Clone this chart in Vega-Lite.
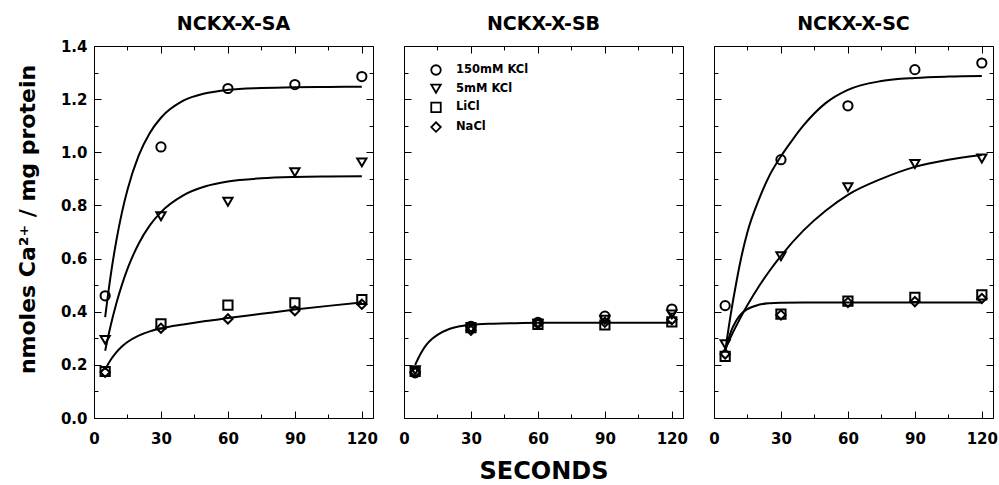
{
  "$schema": "https://vega.github.io/schema/vega-lite/v6.json",
  "padding": {"left": 16, "top": 14, "right": 0, "bottom": 0},
  "bounds": "flush",
  "spacing": 31,
  "config": {
    "view": {"stroke": null},
    "font": "DejaVu Sans",
    "axis": {"domainColor": "black", "tickColor": "black", "grid": false, "labelColor": "black", "titleColor": "black", "labelFont": "DejaVu Sans", "labelFontWeight": "bold", "labelFontSize": 15, "titleFont": "DejaVu Sans", "titleFontWeight": "bold", "titleFontSize": 24, "tickWidth": 1, "domainWidth": 1, "labelOverlap": false, "labelFlush": false},
    "title": {"font": "DejaVu Sans", "fontWeight": "bold", "fontSize": 19, "color": "black", "offset": 5}
  },
  "datasets": {
    "pts": [
      {"panel": "NCKX-X-SA", "cond": "150mM KCl", "t": 5, "v": 0.46},
      {"panel": "NCKX-X-SA", "cond": "150mM KCl", "t": 30, "v": 1.02},
      {"panel": "NCKX-X-SA", "cond": "150mM KCl", "t": 60, "v": 1.24},
      {"panel": "NCKX-X-SA", "cond": "150mM KCl", "t": 90, "v": 1.255},
      {"panel": "NCKX-X-SA", "cond": "150mM KCl", "t": 120, "v": 1.285},
      {"panel": "NCKX-X-SA", "cond": "5mM KCl", "t": 5, "v": 0.294},
      {"panel": "NCKX-X-SA", "cond": "5mM KCl", "t": 30, "v": 0.759},
      {"panel": "NCKX-X-SA", "cond": "5mM KCl", "t": 60, "v": 0.814},
      {"panel": "NCKX-X-SA", "cond": "5mM KCl", "t": 90, "v": 0.925},
      {"panel": "NCKX-X-SA", "cond": "5mM KCl", "t": 120, "v": 0.962},
      {"panel": "NCKX-X-SA", "cond": "LiCl", "t": 5, "v": 0.175},
      {"panel": "NCKX-X-SA", "cond": "LiCl", "t": 30, "v": 0.354},
      {"panel": "NCKX-X-SA", "cond": "LiCl", "t": 60, "v": 0.425},
      {"panel": "NCKX-X-SA", "cond": "LiCl", "t": 90, "v": 0.433},
      {"panel": "NCKX-X-SA", "cond": "LiCl", "t": 120, "v": 0.446},
      {"panel": "NCKX-X-SA", "cond": "NaCl", "t": 5, "v": 0.172},
      {"panel": "NCKX-X-SA", "cond": "NaCl", "t": 30, "v": 0.338},
      {"panel": "NCKX-X-SA", "cond": "NaCl", "t": 60, "v": 0.373},
      {"panel": "NCKX-X-SA", "cond": "NaCl", "t": 90, "v": 0.404},
      {"panel": "NCKX-X-SA", "cond": "NaCl", "t": 120, "v": 0.428},
      {"panel": "NCKX-X-SB", "cond": "150mM KCl", "t": 5, "v": 0.17},
      {"panel": "NCKX-X-SB", "cond": "150mM KCl", "t": 30, "v": 0.345},
      {"panel": "NCKX-X-SB", "cond": "150mM KCl", "t": 60, "v": 0.36},
      {"panel": "NCKX-X-SB", "cond": "150mM KCl", "t": 90, "v": 0.383},
      {"panel": "NCKX-X-SB", "cond": "150mM KCl", "t": 120, "v": 0.41},
      {"panel": "NCKX-X-SB", "cond": "5mM KCl", "t": 5, "v": 0.18},
      {"panel": "NCKX-X-SB", "cond": "5mM KCl", "t": 30, "v": 0.333},
      {"panel": "NCKX-X-SB", "cond": "5mM KCl", "t": 60, "v": 0.355},
      {"panel": "NCKX-X-SB", "cond": "5mM KCl", "t": 90, "v": 0.37},
      {"panel": "NCKX-X-SB", "cond": "5mM KCl", "t": 120, "v": 0.39},
      {"panel": "NCKX-X-SB", "cond": "LiCl", "t": 5, "v": 0.175},
      {"panel": "NCKX-X-SB", "cond": "LiCl", "t": 30, "v": 0.34},
      {"panel": "NCKX-X-SB", "cond": "LiCl", "t": 60, "v": 0.352},
      {"panel": "NCKX-X-SB", "cond": "LiCl", "t": 90, "v": 0.35},
      {"panel": "NCKX-X-SB", "cond": "LiCl", "t": 120, "v": 0.362},
      {"panel": "NCKX-X-SB", "cond": "NaCl", "t": 5, "v": 0.172},
      {"panel": "NCKX-X-SB", "cond": "NaCl", "t": 30, "v": 0.33},
      {"panel": "NCKX-X-SB", "cond": "NaCl", "t": 60, "v": 0.355},
      {"panel": "NCKX-X-SB", "cond": "NaCl", "t": 90, "v": 0.36},
      {"panel": "NCKX-X-SB", "cond": "NaCl", "t": 120, "v": 0.37},
      {"panel": "NCKX-X-SC", "cond": "150mM KCl", "t": 5, "v": 0.423},
      {"panel": "NCKX-X-SC", "cond": "150mM KCl", "t": 30, "v": 0.972},
      {"panel": "NCKX-X-SC", "cond": "150mM KCl", "t": 60, "v": 1.175},
      {"panel": "NCKX-X-SC", "cond": "150mM KCl", "t": 90, "v": 1.311},
      {"panel": "NCKX-X-SC", "cond": "150mM KCl", "t": 120, "v": 1.336},
      {"panel": "NCKX-X-SC", "cond": "5mM KCl", "t": 5, "v": 0.278},
      {"panel": "NCKX-X-SC", "cond": "5mM KCl", "t": 30, "v": 0.609},
      {"panel": "NCKX-X-SC", "cond": "5mM KCl", "t": 60, "v": 0.868},
      {"panel": "NCKX-X-SC", "cond": "5mM KCl", "t": 90, "v": 0.956},
      {"panel": "NCKX-X-SC", "cond": "5mM KCl", "t": 120, "v": 0.977},
      {"panel": "NCKX-X-SC", "cond": "LiCl", "t": 5, "v": 0.232},
      {"panel": "NCKX-X-SC", "cond": "LiCl", "t": 30, "v": 0.391},
      {"panel": "NCKX-X-SC", "cond": "LiCl", "t": 60, "v": 0.44},
      {"panel": "NCKX-X-SC", "cond": "LiCl", "t": 90, "v": 0.454},
      {"panel": "NCKX-X-SC", "cond": "LiCl", "t": 120, "v": 0.463},
      {"panel": "NCKX-X-SC", "cond": "NaCl", "t": 5, "v": 0.241},
      {"panel": "NCKX-X-SC", "cond": "NaCl", "t": 30, "v": 0.388},
      {"panel": "NCKX-X-SC", "cond": "NaCl", "t": 60, "v": 0.435},
      {"panel": "NCKX-X-SC", "cond": "NaCl", "t": 90, "v": 0.438},
      {"panel": "NCKX-X-SC", "cond": "NaCl", "t": 120, "v": 0.45}
    ],
    "fit": [
      {"panel": "NCKX-X-SA", "curve": "a", "t": 5, "v": 0.38},
      {"panel": "NCKX-X-SA", "curve": "a", "t": 7.5, "v": 0.538},
      {"panel": "NCKX-X-SA", "curve": "a", "t": 10, "v": 0.667},
      {"panel": "NCKX-X-SA", "curve": "a", "t": 12.5, "v": 0.773},
      {"panel": "NCKX-X-SA", "curve": "a", "t": 15, "v": 0.859},
      {"panel": "NCKX-X-SA", "curve": "a", "t": 20, "v": 0.987},
      {"panel": "NCKX-X-SA", "curve": "a", "t": 25, "v": 1.073},
      {"panel": "NCKX-X-SA", "curve": "a", "t": 30, "v": 1.13},
      {"panel": "NCKX-X-SA", "curve": "a", "t": 40, "v": 1.194},
      {"panel": "NCKX-X-SA", "curve": "a", "t": 50, "v": 1.222},
      {"panel": "NCKX-X-SA", "curve": "a", "t": 60, "v": 1.235},
      {"panel": "NCKX-X-SA", "curve": "a", "t": 75, "v": 1.242},
      {"panel": "NCKX-X-SA", "curve": "a", "t": 90, "v": 1.245},
      {"panel": "NCKX-X-SA", "curve": "a", "t": 105, "v": 1.246},
      {"panel": "NCKX-X-SA", "curve": "a", "t": 120, "v": 1.247},
      {"panel": "NCKX-X-SA", "curve": "b", "t": 5, "v": 0.253},
      {"panel": "NCKX-X-SA", "curve": "b", "t": 7.5, "v": 0.349},
      {"panel": "NCKX-X-SA", "curve": "b", "t": 10, "v": 0.431},
      {"panel": "NCKX-X-SA", "curve": "b", "t": 12.5, "v": 0.501},
      {"panel": "NCKX-X-SA", "curve": "b", "t": 15, "v": 0.561},
      {"panel": "NCKX-X-SA", "curve": "b", "t": 20, "v": 0.656},
      {"panel": "NCKX-X-SA", "curve": "b", "t": 25, "v": 0.725},
      {"panel": "NCKX-X-SA", "curve": "b", "t": 30, "v": 0.775},
      {"panel": "NCKX-X-SA", "curve": "b", "t": 40, "v": 0.838},
      {"panel": "NCKX-X-SA", "curve": "b", "t": 50, "v": 0.872},
      {"panel": "NCKX-X-SA", "curve": "b", "t": 60, "v": 0.89},
      {"panel": "NCKX-X-SA", "curve": "b", "t": 75, "v": 0.902},
      {"panel": "NCKX-X-SA", "curve": "b", "t": 90, "v": 0.907},
      {"panel": "NCKX-X-SA", "curve": "b", "t": 105, "v": 0.909},
      {"panel": "NCKX-X-SA", "curve": "b", "t": 120, "v": 0.91},
      {"panel": "NCKX-X-SA", "curve": "c", "t": 5, "v": 0.182},
      {"panel": "NCKX-X-SA", "curve": "c", "t": 7.5, "v": 0.219},
      {"panel": "NCKX-X-SA", "curve": "c", "t": 10, "v": 0.247},
      {"panel": "NCKX-X-SA", "curve": "c", "t": 12.5, "v": 0.269},
      {"panel": "NCKX-X-SA", "curve": "c", "t": 15, "v": 0.286},
      {"panel": "NCKX-X-SA", "curve": "c", "t": 20, "v": 0.31},
      {"panel": "NCKX-X-SA", "curve": "c", "t": 25, "v": 0.326},
      {"panel": "NCKX-X-SA", "curve": "c", "t": 30, "v": 0.337},
      {"panel": "NCKX-X-SA", "curve": "c", "t": 40, "v": 0.352},
      {"panel": "NCKX-X-SA", "curve": "c", "t": 50, "v": 0.365},
      {"panel": "NCKX-X-SA", "curve": "c", "t": 60, "v": 0.376},
      {"panel": "NCKX-X-SA", "curve": "c", "t": 75, "v": 0.392},
      {"panel": "NCKX-X-SA", "curve": "c", "t": 90, "v": 0.408},
      {"panel": "NCKX-X-SA", "curve": "c", "t": 105, "v": 0.422},
      {"panel": "NCKX-X-SA", "curve": "c", "t": 120, "v": 0.435},
      {"panel": "NCKX-X-SB", "curve": "a", "t": 5, "v": 0.2},
      {"panel": "NCKX-X-SB", "curve": "a", "t": 7.5, "v": 0.243},
      {"panel": "NCKX-X-SB", "curve": "a", "t": 10, "v": 0.275},
      {"panel": "NCKX-X-SB", "curve": "a", "t": 12.5, "v": 0.297},
      {"panel": "NCKX-X-SB", "curve": "a", "t": 15, "v": 0.313},
      {"panel": "NCKX-X-SB", "curve": "a", "t": 20, "v": 0.334},
      {"panel": "NCKX-X-SB", "curve": "a", "t": 25, "v": 0.345},
      {"panel": "NCKX-X-SB", "curve": "a", "t": 30, "v": 0.351},
      {"panel": "NCKX-X-SB", "curve": "a", "t": 40, "v": 0.355},
      {"panel": "NCKX-X-SB", "curve": "a", "t": 50, "v": 0.357},
      {"panel": "NCKX-X-SB", "curve": "a", "t": 60, "v": 0.358},
      {"panel": "NCKX-X-SB", "curve": "a", "t": 90, "v": 0.358},
      {"panel": "NCKX-X-SB", "curve": "a", "t": 120, "v": 0.358},
      {"panel": "NCKX-X-SC", "curve": "a", "t": 5, "v": 0.25},
      {"panel": "NCKX-X-SC", "curve": "a", "t": 7.5, "v": 0.39},
      {"panel": "NCKX-X-SC", "curve": "a", "t": 10, "v": 0.51},
      {"panel": "NCKX-X-SC", "curve": "a", "t": 12.5, "v": 0.615},
      {"panel": "NCKX-X-SC", "curve": "a", "t": 15, "v": 0.7},
      {"panel": "NCKX-X-SC", "curve": "a", "t": 20, "v": 0.82},
      {"panel": "NCKX-X-SC", "curve": "a", "t": 25, "v": 0.915},
      {"panel": "NCKX-X-SC", "curve": "a", "t": 30, "v": 0.985},
      {"panel": "NCKX-X-SC", "curve": "a", "t": 35, "v": 1.045},
      {"panel": "NCKX-X-SC", "curve": "a", "t": 40, "v": 1.1},
      {"panel": "NCKX-X-SC", "curve": "a", "t": 50, "v": 1.185},
      {"panel": "NCKX-X-SC", "curve": "a", "t": 60, "v": 1.235},
      {"panel": "NCKX-X-SC", "curve": "a", "t": 75, "v": 1.268},
      {"panel": "NCKX-X-SC", "curve": "a", "t": 90, "v": 1.28},
      {"panel": "NCKX-X-SC", "curve": "a", "t": 105, "v": 1.285},
      {"panel": "NCKX-X-SC", "curve": "a", "t": 120, "v": 1.287},
      {"panel": "NCKX-X-SC", "curve": "b", "t": 5, "v": 0.26},
      {"panel": "NCKX-X-SC", "curve": "b", "t": 7.5, "v": 0.305},
      {"panel": "NCKX-X-SC", "curve": "b", "t": 10, "v": 0.347},
      {"panel": "NCKX-X-SC", "curve": "b", "t": 12.5, "v": 0.388},
      {"panel": "NCKX-X-SC", "curve": "b", "t": 15, "v": 0.425},
      {"panel": "NCKX-X-SC", "curve": "b", "t": 20, "v": 0.494},
      {"panel": "NCKX-X-SC", "curve": "b", "t": 25, "v": 0.555},
      {"panel": "NCKX-X-SC", "curve": "b", "t": 30, "v": 0.61},
      {"panel": "NCKX-X-SC", "curve": "b", "t": 40, "v": 0.705},
      {"panel": "NCKX-X-SC", "curve": "b", "t": 50, "v": 0.78},
      {"panel": "NCKX-X-SC", "curve": "b", "t": 60, "v": 0.84},
      {"panel": "NCKX-X-SC", "curve": "b", "t": 75, "v": 0.9},
      {"panel": "NCKX-X-SC", "curve": "b", "t": 90, "v": 0.945},
      {"panel": "NCKX-X-SC", "curve": "b", "t": 105, "v": 0.972},
      {"panel": "NCKX-X-SC", "curve": "b", "t": 120, "v": 0.99},
      {"panel": "NCKX-X-SC", "curve": "c", "t": 5, "v": 0.25},
      {"panel": "NCKX-X-SC", "curve": "c", "t": 7.5, "v": 0.323},
      {"panel": "NCKX-X-SC", "curve": "c", "t": 10, "v": 0.367},
      {"panel": "NCKX-X-SC", "curve": "c", "t": 12.5, "v": 0.394},
      {"panel": "NCKX-X-SC", "curve": "c", "t": 15, "v": 0.41},
      {"panel": "NCKX-X-SC", "curve": "c", "t": 20, "v": 0.426},
      {"panel": "NCKX-X-SC", "curve": "c", "t": 25, "v": 0.432},
      {"panel": "NCKX-X-SC", "curve": "c", "t": 30, "v": 0.434},
      {"panel": "NCKX-X-SC", "curve": "c", "t": 40, "v": 0.435},
      {"panel": "NCKX-X-SC", "curve": "c", "t": 60, "v": 0.435},
      {"panel": "NCKX-X-SC", "curve": "c", "t": 90, "v": 0.435},
      {"panel": "NCKX-X-SC", "curve": "c", "t": 120, "v": 0.435}
    ]
  },
  "resolve": {"scale": {"shape": "independent"}, "legend": {"shape": "independent"}},
  "hconcat": [
    {
      "width": 279, "height": 372,
      "title": {"text": "NCKX-X-SA", "offset": 5},
      "resolve": {"axis": {"x": "independent", "y": "independent"}},
      "layer": [
        {
          "data": {"name": "fit"},
          "transform": [{"filter": "datum.panel === 'NCKX-X-SA'"}],
          "mark": {"type": "line", "color": "black", "strokeWidth": 2, "interpolate": "monotone"},
          "encoding": {
            "x": {"field": "t", "type": "quantitative", "scale": {"domain": [0, 125], "nice": false, "zero": false},
                  "axis": {"orient": "bottom", "title": null, "values": [0, 15, 30, 45, 60, 75, 90, 105, 120], "labelExpr": "datum.value % 30 === 0 ? datum.label : ''", "tickSize": {"condition": {"test": "datum.value % 30 === 0", "value": -7}, "value": -4}, "labelPadding": 20}},
            "y": {"field": "v", "type": "quantitative", "scale": {"domain": [0, 1.4], "nice": false},
                  "axis": {"orient": "left", "title": "nmoles Ca²⁺ / mg protein", "titleFontSize": 22, "titlePadding": 21, "titleY": 173, "format": ".1f", "values": [0, 0.1, 0.2, 0.3, 0.4, 0.5, 0.6, 0.7, 0.8, 0.9, 1.0, 1.1, 1.2, 1.3, 1.4], "labelExpr": "round(datum.value * 10) % 2 === 0 ? datum.label : ''", "tickSize": {"condition": {"test": "round(datum.value * 10) % 2 === 0", "value": -7}, "value": -4}, "labelPadding": 14}},
            "detail": {"field": "curve"}
          }
        },
        {
          "data": {"name": "pts"},
          "transform": [{"filter": "datum.panel === 'NCKX-X-SA'"}],
          "mark": {"type": "point", "filled": false, "color": "black", "strokeWidth": 2, "size": 85, "opacity": 1},
          "encoding": {
            "x": {"field": "t", "type": "quantitative", "axis": null},
            "y": {"field": "v", "type": "quantitative", "axis": null},
            "shape": {"field": "cond", "type": "nominal", "scale": {"domain": ["150mM KCl", "5mM KCl", "LiCl", "NaCl"], "range": ["circle", "triangle-down", "square", "diamond"]}, "legend": null}
          }
        },
        {
          "data": {"name": "pts"},
          "transform": [{"filter": "datum.panel === 'NCKX-X-SA'"}],
          "mark": {"type": "point", "opacity": 0},
          "encoding": {
            "x": {"field": "t", "type": "quantitative",
                  "axis": {"orient": "top", "title": null, "labels": false, "values": [0, 15, 30, 45, 60, 75, 90, 105, 120], "tickSize": {"condition": {"test": "datum.value % 30 === 0", "value": -7}, "value": -4}}},
            "y": {"field": "v", "type": "quantitative",
                  "axis": {"orient": "right", "title": null, "labels": false, "values": [0, 0.1, 0.2, 0.3, 0.4, 0.5, 0.6, 0.7, 0.8, 0.9, 1.0, 1.1, 1.2, 1.3, 1.4], "tickSize": {"condition": {"test": "round(datum.value * 10) % 2 === 0", "value": -7}, "value": -4}}}
          }
        }
      ]
    },
    {
      "width": 279, "height": 372,
      "title": {"text": "NCKX-X-SB", "offset": 12},
      "resolve": {"axis": {"x": "independent", "y": "independent"}},
      "layer": [
        {
          "data": {"name": "fit"},
          "transform": [{"filter": "datum.panel === 'NCKX-X-SB'"}],
          "mark": {"type": "line", "color": "black", "strokeWidth": 2, "interpolate": "monotone"},
          "encoding": {
            "x": {"field": "t", "type": "quantitative", "scale": {"domain": [0, 125], "nice": false, "zero": false},
                  "axis": {"orient": "bottom", "title": "SECONDS", "titlePadding": 10, "values": [0, 15, 30, 45, 60, 75, 90, 105, 120], "labelExpr": "datum.value % 30 === 0 ? datum.label : ''", "tickSize": {"condition": {"test": "datum.value % 30 === 0", "value": -7}, "value": -4}, "labelPadding": 20}},
            "y": {"field": "v", "type": "quantitative", "scale": {"domain": [0, 1.4], "nice": false},
                  "axis": {"orient": "left", "title": null, "labels": false, "values": [0, 0.1, 0.2, 0.3, 0.4, 0.5, 0.6, 0.7, 0.8, 0.9, 1.0, 1.1, 1.2, 1.3, 1.4], "tickSize": {"condition": {"test": "round(datum.value * 10) % 2 === 0", "value": -7}, "value": -4}}},
            "detail": {"field": "curve"}
          }
        },
        {
          "data": {"name": "pts"},
          "transform": [{"filter": "datum.panel === 'NCKX-X-SB'"}],
          "mark": {"type": "point", "filled": false, "color": "black", "strokeWidth": 2, "size": 85, "opacity": 1},
          "encoding": {
            "x": {"field": "t", "type": "quantitative", "axis": null},
            "y": {"field": "v", "type": "quantitative", "axis": null},
            "shape": {"field": "cond", "type": "nominal", "scale": {"domain": ["150mM KCl", "5mM KCl", "LiCl", "NaCl"], "range": ["circle", "triangle-down", "square", "diamond"]},
                      "legend": {"orient": "none", "legendX": 26, "legendY": 18, "title": null, "labelFont": "DejaVu Sans", "labelFontWeight": "bold", "labelFontSize": 11.5, "labelColor": "black", "symbolSize": 90, "symbolStrokeWidth": 1.8, "symbolStrokeColor": "black", "symbolFillColor": "transparent", "rowPadding": 1.7, "labelOffset": 14}}
          }
        },
        {
          "data": {"name": "pts"},
          "transform": [{"filter": "datum.panel === 'NCKX-X-SB'"}],
          "mark": {"type": "point", "opacity": 0},
          "encoding": {
            "x": {"field": "t", "type": "quantitative",
                  "axis": {"orient": "top", "title": null, "labels": false, "values": [0, 15, 30, 45, 60, 75, 90, 105, 120], "tickSize": {"condition": {"test": "datum.value % 30 === 0", "value": -7}, "value": -4}}},
            "y": {"field": "v", "type": "quantitative",
                  "axis": {"orient": "right", "title": null, "labels": false, "values": [0, 0.1, 0.2, 0.3, 0.4, 0.5, 0.6, 0.7, 0.8, 0.9, 1.0, 1.1, 1.2, 1.3, 1.4], "tickSize": {"condition": {"test": "round(datum.value * 10) % 2 === 0", "value": -7}, "value": -4}}}
          }
        }
      ]
    },
    {
      "width": 279, "height": 372,
      "title": {"text": "NCKX-X-SC", "offset": 12},
      "resolve": {"axis": {"x": "independent", "y": "independent"}},
      "layer": [
        {
          "data": {"name": "fit"},
          "transform": [{"filter": "datum.panel === 'NCKX-X-SC'"}],
          "mark": {"type": "line", "color": "black", "strokeWidth": 2, "interpolate": "monotone"},
          "encoding": {
            "x": {"field": "t", "type": "quantitative", "scale": {"domain": [0, 125], "nice": false, "zero": false},
                  "axis": {"orient": "bottom", "title": null, "values": [0, 15, 30, 45, 60, 75, 90, 105, 120], "labelExpr": "datum.value % 30 === 0 ? datum.label : ''", "tickSize": {"condition": {"test": "datum.value % 30 === 0", "value": -7}, "value": -4}, "labelPadding": 20}},
            "y": {"field": "v", "type": "quantitative", "scale": {"domain": [0, 1.4], "nice": false},
                  "axis": {"orient": "left", "title": null, "labels": false, "values": [0, 0.1, 0.2, 0.3, 0.4, 0.5, 0.6, 0.7, 0.8, 0.9, 1.0, 1.1, 1.2, 1.3, 1.4], "tickSize": {"condition": {"test": "round(datum.value * 10) % 2 === 0", "value": -7}, "value": -4}}},
            "detail": {"field": "curve"}
          }
        },
        {
          "data": {"name": "pts"},
          "transform": [{"filter": "datum.panel === 'NCKX-X-SC'"}],
          "mark": {"type": "point", "filled": false, "color": "black", "strokeWidth": 2, "size": 85, "opacity": 1},
          "encoding": {
            "x": {"field": "t", "type": "quantitative", "axis": null},
            "y": {"field": "v", "type": "quantitative", "axis": null},
            "shape": {"field": "cond", "type": "nominal", "scale": {"domain": ["150mM KCl", "5mM KCl", "LiCl", "NaCl"], "range": ["circle", "triangle-down", "square", "diamond"]}, "legend": null}
          }
        },
        {
          "data": {"name": "pts"},
          "transform": [{"filter": "datum.panel === 'NCKX-X-SC'"}],
          "mark": {"type": "point", "opacity": 0},
          "encoding": {
            "x": {"field": "t", "type": "quantitative",
                  "axis": {"orient": "top", "title": null, "labels": false, "values": [0, 15, 30, 45, 60, 75, 90, 105, 120], "tickSize": {"condition": {"test": "datum.value % 30 === 0", "value": -7}, "value": -4}}},
            "y": {"field": "v", "type": "quantitative",
                  "axis": {"orient": "right", "title": null, "labels": false, "values": [0, 0.1, 0.2, 0.3, 0.4, 0.5, 0.6, 0.7, 0.8, 0.9, 1.0, 1.1, 1.2, 1.3, 1.4], "tickSize": {"condition": {"test": "round(datum.value * 10) % 2 === 0", "value": -7}, "value": -4}}}
          }
        }
      ]
    }
  ]
}
